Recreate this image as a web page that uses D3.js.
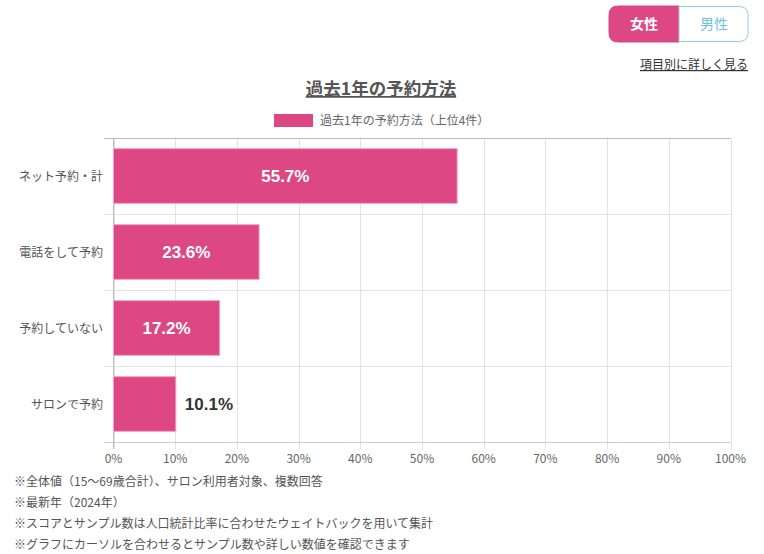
<!DOCTYPE html>
<html><head><meta charset="utf-8">
<script src="https://cdn.jsdelivr.net/npm/d3@7"></script>
<style>
body{margin:0;background:#fff;font-family:"Noto Sans CJK JP","Noto Sans",sans-serif;}
</style></head>
<body><svg id="c" width="764" height="554"></svg>
<script>
const categories = ["ネット予約・計","電話をして予約","予約していない","サロンで予約"];
const values = [55.7, 23.6, 17.2, 10.1];
const ticks = [0,10,20,30,40,50,60,70,80,90,100];
const title = "過去1年の予約方法";
const legendLabel = "過去1年の予約方法（上位4件）";
const notes = ["※全体値（15～69歳合計）、サロン利用者対象、複数回答","※最新年（2024年）","※スコアとサンプル数は人口統計比率に合わせたウェイトバックを用いて集計","※グラフにカーソルを合わせるとサンプル数や詳しい数値を確認できます"];

const svg = d3.select("#c");
const F = '"Noto Sans CJK JP","Noto Sans",sans-serif';
const pink = "#dc4784";

// toggle buttons
const bx = 609, by = 6, bw = 70, bh = 36, r = 9;
svg.append("path").attr("d", `M${bx+bw},${by} H${bx+r} Q${bx},${by} ${bx},${by+r} V${by+bh-r} Q${bx},${by+bh} ${bx+r},${by+bh} H${bx+bw} Z`).attr("fill", pink).attr("stroke", pink);
svg.append("path").attr("d", `M${bx+bw},${by+0.5} H${bx+2*bw-r-1} Q${bx+2*bw-1},${by+0.5} ${bx+2*bw-1},${by+r} V${by+bh-r} Q${bx+2*bw-1},${by+bh-0.5} ${bx+2*bw-r-1},${by+bh-0.5} H${bx+bw} Z`).attr("fill", "#fff").attr("stroke", "#8fd0e6");
svg.append("text").attr("x", bx+bw/2).attr("y", by+bh/2+5).attr("text-anchor","middle").attr("font-family",F).attr("font-size",14).attr("font-weight","bold").attr("fill","#fff").text("女性");
svg.append("text").attr("x", bx+bw*1.5).attr("y", by+bh/2+5).attr("text-anchor","middle").attr("font-family",F).attr("font-size",14).attr("fill","#6ec0df").text("男性");
svg.append("text").attr("x", 748).attr("y", 69).attr("text-anchor","end").attr("font-family",F).attr("font-size",12).attr("fill","#333").attr("text-decoration","underline").text("項目別に詳しく見る");

// title
svg.append("text").attr("x", 381).attr("y", 95).attr("text-anchor","middle").attr("font-family",F).attr("font-size",17.5).attr("font-weight","bold").attr("fill","#555").attr("text-decoration","underline").text(title);
// legend
svg.append("rect").attr("x",274).attr("y",114).attr("width",39).attr("height",13).attr("fill",pink);
svg.append("text").attr("x",320).attr("y",125).attr("font-family",F).attr("font-size",12).attr("fill","#666").text(legendLabel);

const x0 = 113.5, x1 = 730.5, y0 = 138, y1 = 442;
const x = d3.scaleLinear().domain([0,100]).range([x0,x1]);
const y = d3.scaleBand().domain(categories).range([y0,y1]).paddingInner(0.28).paddingOuter(0.14);
const yb = d3.scaleBand().domain(categories).range([y0,y1]);

const g = svg.append("g");
// vertical grid
g.selectAll(".vg").data(ticks).join("line").attr("x1",d=>Math.round(x(d))+0.5).attr("x2",d=>Math.round(x(d))+0.5).attr("y1",y0).attr("y2",y1+7).attr("stroke","#e2e2e2");
// horizontal grid
g.selectAll(".hg").data(categories.slice(1)).join("line").attr("x1",104).attr("x2",x1).attr("y1",d=>Math.round(yb(d))+0.5).attr("y2",d=>Math.round(yb(d))+0.5).attr("stroke","#e2e2e2");
g.append("line").attr("x1",104).attr("x2",x1).attr("y1",y0+0.5).attr("y2",y0+0.5).attr("stroke","#bbb");
g.append("line").attr("x1",104).attr("x2",x1).attr("y1",y1+0.5).attr("y2",y1+0.5).attr("stroke","#ccc");
g.append("line").attr("x1",x0).attr("x2",x0).attr("y1",y0).attr("y2",y1+7).attr("stroke","#bbb");

// bars
g.selectAll(".bar").data(values).join("rect").attr("x",x0).attr("y",(d,i)=>y(categories[i])).attr("width",d=>x(d)-x0).attr("height",y.bandwidth()).attr("fill",pink).attr("stroke","#f5a3c4").attr("stroke-width",1);

// value labels
g.selectAll(".vl").data(values).join("text")
 .attr("x",(d)=> d>=15 ? x0+(x(d)-x0)/2 : x(d)+9)
 .attr("y",(d,i)=>y(categories[i])+y.bandwidth()/2+6)
 .attr("text-anchor",d=>d>=15?"middle":"start")
 .attr("font-family","Liberation Sans, Arial, sans-serif").attr("font-weight","bold").attr("font-size",17)
 .attr("fill",d=>d>=15?"#fff":"#333").text(d=>d.toFixed(1)+"%");

// category labels
g.selectAll(".cl").data(categories).join("text").attr("x",103).attr("y",d=>yb(d)+yb.bandwidth()/2+5).attr("text-anchor","end").attr("font-family",F).attr("font-size",12).attr("fill","#555").text(d=>d);

// tick labels
g.selectAll(".tl").data(ticks).join("text").attr("x",d=>x(d)).attr("y",463).attr("text-anchor","middle").attr("font-family",F).attr("font-size",12).attr("fill","#666").text(d=>d+"%");

// notes
svg.selectAll(".nt").data(notes).join("text").attr("x",14).attr("y",(d,i)=>486+i*21).attr("font-family",F).attr("font-size",12).attr("fill","#555").text(d=>d);
</script></body></html>
